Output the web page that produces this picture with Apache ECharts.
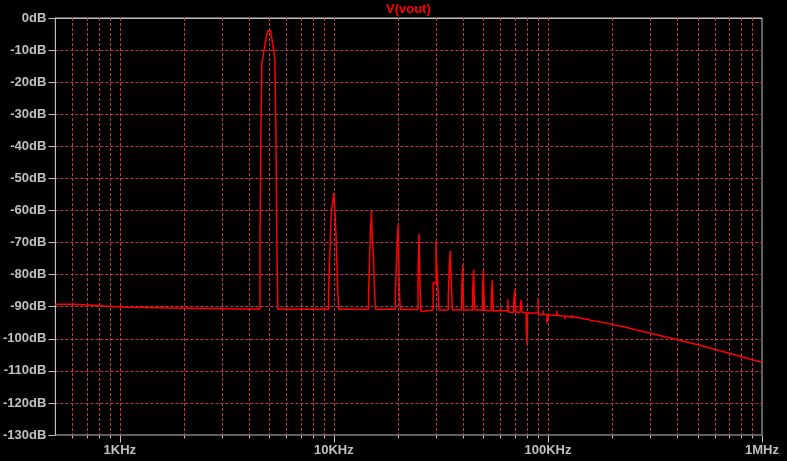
<!DOCTYPE html>
<html>
<head>
<meta charset="utf-8">
<script src="https://cdn.jsdelivr.net/npm/echarts@6/dist/echarts.min.js"></script>
<style>
  html, body { margin: 0; padding: 0; background: #000; }
  #chart { width: 787px; height: 461px; }
</style>
</head>
<body>
<div id="chart"></div>
<script>
// ---- data: [frequency Hz, magnitude dB] (step segments) ----
const lowBand = [[500,-89.25],[612,-89.6],[764,-89.9],[886,-90.2],[1078,-90.5],[2144,-90.8]];
const fundamental = [[4516,-71.7],[4564,-33.9],[4613,-13.9],[4663,-12.3],[4713,-10.2],[4764,-8.4],[4815,-6.6],[4867,-5.0],[4920,-4.0],[4973,-3.5],[5026,-4.0],[5081,-5.0],[5135,-6.6],[5191,-8.4],[5247,-10.2],[5303,-13.6],[5361,-33.9],[5419,-71.7],[5477,-90.8]];
const harm2 = [[9447,-86],[9548,-76],[9652,-66.4],[9756,-59.8],[9893,-57],[10000,-54.5],[10032,-57],[10108,-59.8],[10217,-66.4],[10328,-76],[10440,-86],[10552,-90.8]];
const harm3 = [[14525,-85.8],[14680,-75.4],[14838,-65.6],[15000,-60.2],[15048,-65.6],[15326,-75.4],[15492,-85.8],[15658,-90.8]];
const harm4 = [[19366,-86.5],[19574,-77.9],[19786,-69.2],[20000,-64.2],[20064,-71.7],[20216,-84.8],[20434,-90.9]];
const harm5 = [[24733,-80],[25000,-67.3],[25080,-73.5],[25270,-84.5],[25543,-91.5],[25817,-91.0]];
const harm6 = [[29100,-82.5],[30000,-69.5],[30096,-74],[30650,-85],[30984,-91.0]];
const harm7 = [[34256,-86.6],[34626,-77.3],[35000,-72.6],[35112,-77.3],[35378,-82],[35760,-91.0]];
const harm8to11 = [[39572,-84.3],[40000,-77],[40128,-84.3],[40432,-91.0],
                   [44517,-84.9],[45000,-78.6],[45144,-84.9],[45486,-91.0],
                   [49464,-84.9],[50000,-78.6],[50160,-84.9],[50540,-91.2],
                   [54410,-86.7],[55000,-81.7],[55176,-86.7],[55594,-91.3]];
const harm12to20 = [[60000,-90.4],[60400,-91.3],
                    [65000,-87.7],[65210,-90],[65700,-91.7],
                    [69250,-88.4],[70000,-84.6],[70225,-88.4],[70760,-91.7],
                    [74200,-89.8],[75000,-87.9],[75240,-89.8],[75810,-91.8],
                    [79150,-96.4],[80000,-101.9],[80257,-92.0],
                    [85000,-91.4],[85300,-92.0],
                    [90000,-87.3],[90290,-92.4],
                    [95000,-91.2],[95300,-92.4],
                    [99000,-95.2],[100300,-92.7]];
const upperBand = [[110000,-91.2],[110350,-92.7],[111600,-93.0],[120000,-93.9],[120400,-93.0],[124200,-93.3],
                   [130000,-92.6],[130400,-93.3],[134000,-93.6],[144500,-93.9],[150000,-93.4],[150400,-93.9],[155800,-94.2]];
const rollOff = [[155800,-94.2],[168200,-94.5],[176900,-94.8],[190000,-95.2],[198800,-95.5],[209300,-95.9],
                 [220400,-96.1],[233200,-96.5],[257100,-97.2],[300500,-98.3],[386000,-100.0],[496000,-101.8],
                 [593000,-103.2],[709600,-104.6],[849000,-106.1],[1000000,-107.3]];

// ---- axes / ticks ----
const xMin = 500, xMax = 1000000;
const yMin = -130, yMax = 0, yStep = 10;
const xLabelValues = [1000, 10000, 100000, 1000000];
const xLabelTexts  = ['1KHz', '10KHz', '100KHz', '1MHz'];
const majorGridHz = [1000, 10000, 100000];
const minorGridHz = [600,700,800,900, 2000,3000,4000,5000,6000,7000,8000,9000,
                     20000,30000,40000,50000,60000,70000,80000,90000,
                     200000,300000,400000,500000,600000,700000,800000,900000];
const titleText = 'V(vout)';

const stepped = [].concat(lowBand, fundamental, harm2, harm3, harm4, harm5, harm6, harm7, harm8to11, harm12to20, upperBand);

const AXIS = '#c0c0c0';
const GRID = '#c0384c';
const TRACE = '#ff0000';
const FONT = 'Liberation Sans';

const gridItems = minorGridHz.map(f => [f, 0]).concat(majorGridHz.map(f => [f, 1])).concat([[xMax, 2]]);

const chart = echarts.init(document.getElementById('chart'), null, { renderer: 'canvas' });
chart.setOption({
  backgroundColor: '#000000',
  animation: false,
  title: {
    text: titleText, left: 386, top: 3, padding: 0,
    textStyle: { color: TRACE, fontFamily: FONT, fontSize: 13, fontWeight: 'bold' }
  },
  grid: { left: 54, right: 25, top: 18, bottom: 26, show: true, borderColor: AXIS, borderWidth: 1, backgroundColor: 'transparent' },
  xAxis: {
    type: 'log', logBase: 10, min: xMin, max: xMax,
    axisLine: { show: true, lineStyle: { color: AXIS, width: 1 } },
    axisTick: { show: false },
    splitLine: { show: false },
    minorTick: { show: false },
    axisLabel: {
      color: AXIS, fontFamily: FONT, fontSize: 13, fontWeight: 'bold', margin: 9,
      formatter: function (v) {
        const i = xLabelValues.findIndex(t => Math.abs(Math.log10(t) - Math.log10(v)) < 1e-6);
        return i >= 0 ? xLabelTexts[i] : '';
      }
    }
  },
  yAxis: {
    type: 'value', min: yMin, max: yMax, interval: yStep,
    axisLine: { show: true, lineStyle: { color: AXIS, width: 1 } },
    axisTick: { show: true, length: 7, lineStyle: { color: AXIS } },
    splitLine: { show: true, showMinLine: false, showMaxLine: false, lineStyle: { color: GRID, type: [3, 2], width: 1 } },
    axisLabel: { color: AXIS, fontFamily: FONT, fontSize: 13, fontWeight: 'bold', margin: 9, formatter: '{value}dB' }
  },
  series: [
    {
      type: 'custom', coordinateSystem: 'cartesian2d', silent: true, z: 1, clip: false,
      data: gridItems,
      renderItem: function (params, api) {
        const f = api.value(0), kind = api.value(1);
        const top = api.coord([f, yMax]);
        const bot = api.coord([f, yMin]);
        const x = Math.round(top[0]) + 0.5;
        const yb = Math.round(bot[1]) + 0.5;
        const children = [];
        if (kind < 2) {
          children.push({ type: 'line', shape: { x1: x, y1: top[1], x2: x, y2: bot[1] },
            style: { stroke: GRID, lineWidth: 1, lineDash: [3, 2] } });
        }
        const len = kind >= 1 ? 7 : 3;
        children.push({ type: 'line', shape: { x1: x, y1: yb, x2: x, y2: yb + len },
          style: { stroke: AXIS, lineWidth: 1 } });
        return { type: 'group', children: children };
      }
    },
    {
      type: 'line', data: stepped, step: 'end', showSymbol: false, z: 3,
      lineStyle: { color: TRACE, width: 1.5 }, silent: true
    },
    {
      type: 'line', data: rollOff, showSymbol: false, z: 3,
      lineStyle: { color: TRACE, width: 1.5 }, silent: true
    }
  ]
});
</script>
</body>
</html>
